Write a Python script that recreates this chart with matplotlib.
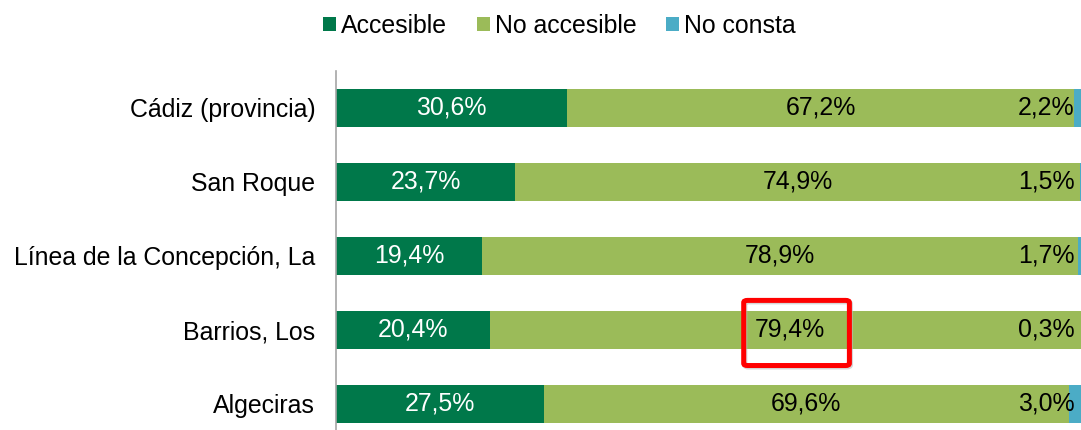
import numpy as np
import matplotlib
matplotlib.use('Agg')
from matplotlib import pyplot as plt
from matplotlib.patches import FancyBboxPatch

plt.rcParams['font.family'] = ['Liberation Sans', 'DejaVu Sans']

categories = ['Cádiz (provincia)', 'San Roque', 'Línea de la Concepción, La',
              'Barrios, Los', 'Algeciras']
accesible = [30.6, 23.7, 19.4, 20.4, 27.5]
no_accesible = [67.2, 74.9, 78.9, 79.4, 69.6]
no_consta = [2.2, 1.5, 1.7, 0.3, 3.0]
series_names = ['Accesible', 'No accesible', 'No consta']
colors = ['#00784A', '#9BBB59', '#4BACC6']


def fmt(v):
    return ('%.1f%%' % v).replace('.', ',')


fig = plt.figure(figsize=(10.81, 4.30), dpi=100)
ax = fig.add_axes([336 / 1081, -11 / 430, 755 / 1081, 370 / 430])

FS = 17.9
y = np.arange(len(categories))
left = np.zeros(len(categories))
bars = []
for vals, name, col in zip([accesible, no_accesible, no_consta], series_names, colors):
    b = ax.barh(y, vals, left=left, height=0.51, color=col, label=name)
    bars.append(b)
    left = left + np.array(vals)

# labels
for i in range(len(categories)):
    ax.text(accesible[i] / 2, y[i], fmt(accesible[i]), ha='center', va='center',
            color='white', fontsize=FS)
    ax.text(accesible[i] + no_accesible[i] / 2, y[i], fmt(no_accesible[i]),
            ha='center', va='center', color='black', fontsize=FS)
    ax.text(97.8, y[i], fmt(no_consta[i]), ha='right', va='center',
            color='black', fontsize=FS)

# highlight box around Barrios, Los (light shadow + red frame)
shadow = FancyBboxPatch((54.15, 2.62), 14.0, 0.88, boxstyle='round,pad=0,rounding_size=0.5',
                        fill=False, edgecolor='#BBBBBB', linewidth=3.6, alpha=0.6,
                        mutation_aspect=0.06, zorder=4)
ax.add_patch(shadow)
box = FancyBboxPatch((54.0, 2.6), 14.0, 0.88, boxstyle='round,pad=0,rounding_size=0.5',
                     fill=False, edgecolor='#FF0000', linewidth=3.6,
                     mutation_aspect=0.06, zorder=5)
ax.add_patch(box)

ax.set_xlim(0, 100)
ax.set_ylim(len(categories) - 0.5, -0.5)
ax.set_yticks(y)
ax.set_yticklabels(categories, fontsize=FS)
ax.tick_params(axis='y', length=0, pad=15)
ax.set_xticks([])
for s in ['top', 'right', 'bottom']:
    ax.spines[s].set_visible(False)
ax.spines['left'].set_color('#A6A6A6')
ax.spines['left'].set_linewidth(1.2)

fig.legend(handles=bars, labels=series_names, loc='center',
           bbox_to_anchor=(0.5176, 0.9395), ncol=3, frameon=False,
           fontsize=FS, handlelength=0.52, handleheight=0.52,
           handletextpad=0.2, columnspacing=1.2, borderpad=0, borderaxespad=0)

fig.savefig('out.png', dpi=100)
